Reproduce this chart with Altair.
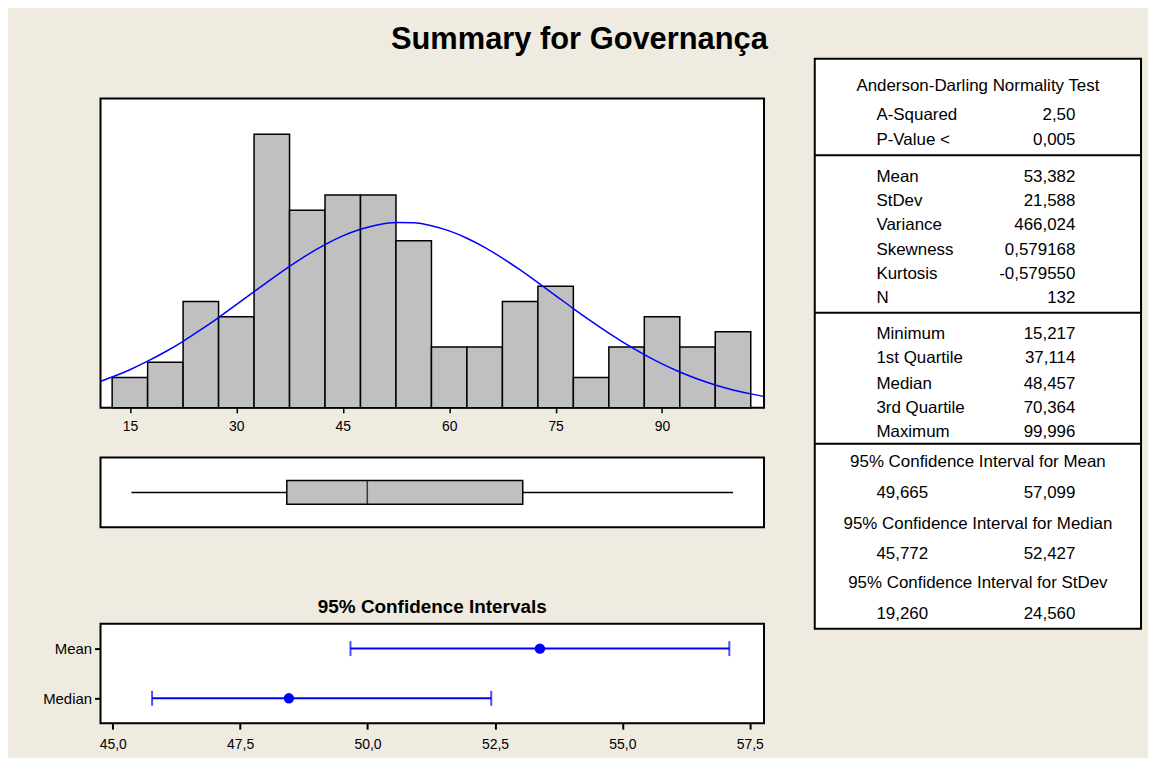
import altair as alt
import pandas as pd

# ---------------- data ----------------
title_text = "Summary for Governança"

# histogram (bin width 5)
bin_left = [12.5, 17.5, 22.5, 27.5, 32.5, 37.5, 42.5, 47.5, 52.5,
            57.5, 62.5, 67.5, 72.5, 77.5, 82.5, 87.5, 92.5, 97.5]
bin_count = [2, 3, 7, 6, 18, 13, 14, 14, 11, 4, 4, 7, 8, 2, 4, 6, 4, 5]
bin_width = 5
hist_ticks = [15, 30, 45, 60, 75, 90]

# fitted normal curve (counts scale)
curve_x = [10.86, 12.5, 15, 17.5, 20, 22.5, 25, 27.5, 30, 32.5, 35, 37.5, 40,
           42.5, 45, 47.5, 50, 52.5, 55, 57.5, 60, 62.5, 65, 67.5, 70, 72.5,
           75, 77.5, 80, 82.5, 85, 87.5, 90, 92.5, 95, 97.5, 100, 102.5, 104.37]
curve_y = [1.75, 2.03, 2.51, 3.07, 3.69, 4.38, 5.14, 5.94, 6.79, 7.64, 8.49,
           9.31, 10.07, 10.74, 11.31, 11.75, 12.05, 12.19, 12.17, 11.98, 11.64,
           11.16, 10.56, 9.85, 9.07, 8.24, 7.39, 6.53, 5.70, 4.91, 4.17, 3.50,
           2.89, 2.36, 1.90, 1.51, 1.18, 0.92, 0.75]

# five-number summary
five_names = ["Minimum", "1st Quartile", "Median", "3rd Quartile", "Maximum"]
five_values = [15.217, 37.114, 48.457, 70.364, 99.996]

# confidence intervals
ci_names = ["Mean", "Median"]
ci_est = [53.382, 48.457]
ci_lo = [49.665, 45.772]
ci_hi = [57.099, 52.427]
ci_ticks = [45.0, 47.5, 50.0, 52.5, 55.0, 57.5]

# summary table
ad_header = "Anderson-Darling Normality Test"
ad_labels = ["A-Squared", "P-Value <"]
ad_values = ["2,50", "0,005"]
desc_labels = ["Mean", "StDev", "Variance", "Skewness", "Kurtosis", "N"]
desc_values = ["53,382", "21,588", "466,024", "0,579168", "-0,579550", "132"]
quart_labels = five_names
quart_values = ["15,217", "37,114", "48,457", "70,364", "99,996"]
ci_headers = ["95% Confidence Interval for Mean",
              "95% Confidence Interval for Median",
              "95% Confidence Interval for StDev"]
ci_low_txt = ["49,665", "45,772", "19,260"]
ci_high_txt = ["57,099", "52,427", "24,560"]

# ---------------- layout / style ----------------
BG = "#EFEBE1"
FONT = "Liberation Sans"
W = 667
HIST_DOMAIN = [10.86, 104.37]
CI_DOMAIN = [44.76, 57.78]
TW, TH = 328, 573

# table line positions (pixels from the table top)
y_header = 27
y_ad = [57, 81.5]
y_div = [97, 255.5, 387]
y_desc = [119, 143, 167, 192, 216.5, 241]
y_quart = [277, 301, 327, 351, 375]
y_ci_head = [405.5, 467.5, 527]
y_ci_vals = [437, 497.5, 558.5]
x_left, x_right, x_center = 62, 262, 164

# ---------------- histogram ----------------
hist_df = pd.DataFrame({"left": bin_left,
                        "right": [b + bin_width for b in bin_left],
                        "count": bin_count})
curve_df = pd.DataFrame({"x": curve_x, "y": curve_y})

xs = alt.Scale(domain=HIST_DOMAIN, nice=False, zero=False)
ys = alt.Scale(domain=[0, 20.35], nice=False, zero=True)

bars = alt.Chart(hist_df).mark_bar(fill="#C0C0C0", stroke="black", strokeWidth=1.5).encode(
    x=alt.X("left:Q", scale=xs,
            axis=alt.Axis(values=hist_ticks, title=None, tickSize=5, labelPadding=7,
                          labelFontSize=14, format="d")),
    x2="right:Q",
    y=alt.Y("count:Q", scale=ys, axis=None),
    y2=alt.datum(0),
)
curve = alt.Chart(curve_df).mark_line(color="#0000FF", strokeWidth=1.5,
                                      interpolate="monotone", clip=True).encode(
    x=alt.X("x:Q", scale=xs),
    y=alt.Y("y:Q", scale=ys),
)
hist = alt.layer(bars, curve).properties(width=W, height=311)

# ---------------- boxplot ----------------
box_df = pd.DataFrame({"row": ["Governança"], "mn": [five_values[0]], "q1": [five_values[1]],
                       "med": [five_values[2]], "q3": [five_values[3]], "mx": [five_values[4]]})
bbase = alt.Chart(box_df).encode(y=alt.Y("row:N", axis=None, title=None))
whisk = bbase.mark_rule(color="black", strokeWidth=1.5).encode(
    x=alt.X("mn:Q", scale=xs, axis=None), x2="mx:Q")
boxr = bbase.mark_bar(size=24, fill="#C0C0C0", stroke="black", strokeWidth=1.5).encode(
    x=alt.X("q1:Q", scale=xs, axis=None), x2="q3:Q")
med = bbase.mark_tick(color="black", size=24, thickness=1.5).encode(
    x=alt.X("med:Q", scale=xs, axis=None))
box = alt.layer(whisk, boxr, med).properties(width=W, height=70)

# ---------------- confidence intervals ----------------
ci_df = pd.DataFrame({"stat": ci_names, "est": ci_est, "lo": ci_lo, "hi": ci_hi})
cxs = alt.Scale(domain=CI_DOMAIN, nice=False, zero=False)
cy = alt.Y("stat:N", sort=ci_names, scale=alt.Scale(type="point", padding=0.5),
           axis=alt.Axis(title=None, tickSize=6, labelPadding=3, labelFontSize=15,
                         tickWidth=2))
cbase = alt.Chart(ci_df).encode(y=cy)
ci_line = cbase.mark_rule(color="#0000FF", strokeWidth=2).encode(
    x=alt.X("lo:Q", scale=cxs,
            axis=alt.Axis(values=ci_ticks, title=None, tickSize=6, labelPadding=8,
                          labelFontSize=14, tickWidth=2,
                          labelExpr="replace(format(datum.value, '.1f'), '.', ',')")),
    x2="hi:Q")
ci_cap_lo = cbase.mark_tick(color="#0000FF", size=15, thickness=2).encode(
    x=alt.X("lo:Q", scale=cxs))
ci_cap_hi = cbase.mark_tick(color="#0000FF", size=15, thickness=2).encode(
    x=alt.X("hi:Q", scale=cxs))
ci_pt = cbase.mark_circle(color="#0000FF", opacity=1, size=110).encode(
    x=alt.X("est:Q", scale=cxs))
ci = alt.layer(ci_line, ci_cap_lo, ci_cap_hi, ci_pt).properties(
    width=W, height=100,
    title=alt.TitleParams("95% Confidence Intervals", fontSize=19, fontWeight="bold",
                          font=FONT, color="black", offset=7, anchor="middle"))

# ---------------- table ----------------
rows = []
rows.append({"t": ad_header, "y": y_header, "x": x_center, "a": "center"})
for lab, val, yy in zip(ad_labels, ad_values, y_ad):
    rows.append({"t": lab, "y": yy, "x": x_left, "a": "left"})
    rows.append({"t": val, "y": yy, "x": x_right, "a": "right"})
for lab, val, yy in zip(desc_labels, desc_values, y_desc):
    rows.append({"t": lab, "y": yy, "x": x_left, "a": "left"})
    rows.append({"t": val, "y": yy, "x": x_right, "a": "right"})
for lab, val, yy in zip(quart_labels, quart_values, y_quart):
    rows.append({"t": lab, "y": yy, "x": x_left, "a": "left"})
    rows.append({"t": val, "y": yy, "x": x_right, "a": "right"})
for hd, lo, hi, yh, yv in zip(ci_headers, ci_low_txt, ci_high_txt, y_ci_head, y_ci_vals):
    rows.append({"t": hd, "y": yh, "x": x_center, "a": "center"})
    rows.append({"t": lo, "y": yv, "x": x_left, "a": "left"})
    rows.append({"t": hi, "y": yv, "x": x_right, "a": "right"})
tab_df = pd.DataFrame(rows)
div_df = pd.DataFrame({"y": y_div})

txs = alt.Scale(domain=[0, TW], range=[0, TW], nice=False, zero=False)
tys = alt.Scale(domain=[0, TH], range=[0, TH], nice=False, zero=False)

def tlayer(align):
    return alt.Chart(tab_df).transform_filter(alt.datum.a == align).mark_text(
        align=align, baseline="middle", fontSize=17, font=FONT, color="black").encode(
        x=alt.X("x:Q", scale=txs, axis=None),
        y=alt.Y("y:Q", scale=tys, axis=None),
        text="t:N")

dividers = alt.Chart(div_df).mark_rule(color="black", strokeWidth=2).encode(
    y=alt.Y("y:Q", scale=tys, axis=None))
table = alt.layer(tlayer("left"), tlayer("right"), tlayer("center"), dividers).properties(
    width=TW, height=TH)

# ---------------- assembly ----------------
spacer = alt.Chart(pd.DataFrame({"v": [0]})).mark_point(opacity=0).encode(
    x=alt.X("v:Q", axis=None), y=alt.Y("v:Q", axis=None)).properties(
    width=W, height=16, view=alt.ViewBackground(stroke="transparent", fill="transparent"))

left_top = alt.vconcat(spacer, hist, box, spacing=22)
left = alt.vconcat(left_top, ci, spacing=69)

chart = alt.hconcat(left, table, spacing=48).properties(
    title=alt.TitleParams(title_text, fontSize=31, fontWeight="bold", font=FONT,
                          color="black", anchor="middle", offset=2, dx=-13),
    padding={"left": 33, "top": 14, "right": 5, "bottom": 4},
    background=BG,
).configure(font=FONT).configure_view(
    stroke="black", strokeWidth=2, fill="white"
).configure_axis(
    labelFont=FONT, labelColor="black", tickColor="black", domain=False, grid=False,
    tickWidth=1.5
)

chart.save("out.html", embed_options={"renderer": "svg", "actions": False})
